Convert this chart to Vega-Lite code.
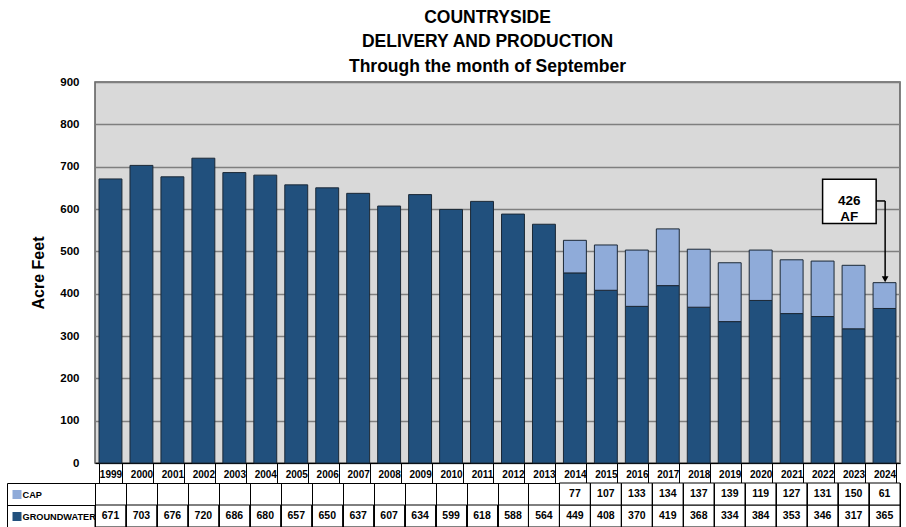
{
  "$schema": "https://vega.github.io/schema/vega-lite/v6.json",
  "padding": {"left": 6, "right": 6, "top": 8, "bottom": 0},
  "background": "white",
  "title": {
    "text": ["COUNTRYSIDE", "DELIVERY AND PRODUCTION", "Through the month of September"],
    "font": "Liberation Sans",
    "fontSize": 17.5,
    "fontWeight": "bold",
    "lineHeight": 24.5,
    "color": "black",
    "anchor": "middle",
    "dx": 34,
    "offset": 0
  },
  "data": {
    "values": [
      {"year": 1999, "series": "GROUNDWATER", "value": 671},
      {"year": 2000, "series": "GROUNDWATER", "value": 703},
      {"year": 2001, "series": "GROUNDWATER", "value": 676},
      {"year": 2002, "series": "GROUNDWATER", "value": 720},
      {"year": 2003, "series": "GROUNDWATER", "value": 686},
      {"year": 2004, "series": "GROUNDWATER", "value": 680},
      {"year": 2005, "series": "GROUNDWATER", "value": 657},
      {"year": 2006, "series": "GROUNDWATER", "value": 650},
      {"year": 2007, "series": "GROUNDWATER", "value": 637},
      {"year": 2008, "series": "GROUNDWATER", "value": 607},
      {"year": 2009, "series": "GROUNDWATER", "value": 634},
      {"year": 2010, "series": "GROUNDWATER", "value": 599},
      {"year": 2011, "series": "GROUNDWATER", "value": 618},
      {"year": 2012, "series": "GROUNDWATER", "value": 588},
      {"year": 2013, "series": "GROUNDWATER", "value": 564},
      {"year": 2014, "series": "GROUNDWATER", "value": 449},
      {"year": 2015, "series": "GROUNDWATER", "value": 408},
      {"year": 2016, "series": "GROUNDWATER", "value": 370},
      {"year": 2017, "series": "GROUNDWATER", "value": 419},
      {"year": 2018, "series": "GROUNDWATER", "value": 368},
      {"year": 2019, "series": "GROUNDWATER", "value": 334},
      {"year": 2020, "series": "GROUNDWATER", "value": 384},
      {"year": 2021, "series": "GROUNDWATER", "value": 353},
      {"year": 2022, "series": "GROUNDWATER", "value": 346},
      {"year": 2023, "series": "GROUNDWATER", "value": 317},
      {"year": 2024, "series": "GROUNDWATER", "value": 365},
      {"year": 2014, "series": "CAP", "value": 77},
      {"year": 2015, "series": "CAP", "value": 107},
      {"year": 2016, "series": "CAP", "value": 133},
      {"year": 2017, "series": "CAP", "value": 134},
      {"year": 2018, "series": "CAP", "value": 137},
      {"year": 2019, "series": "CAP", "value": 139},
      {"year": 2020, "series": "CAP", "value": 119},
      {"year": 2021, "series": "CAP", "value": 127},
      {"year": 2022, "series": "CAP", "value": 131},
      {"year": 2023, "series": "CAP", "value": 150},
      {"year": 2024, "series": "CAP", "value": 61}
    ]
  },
  "bounds": "flush",
  "spacing": 20,
  "resolve": {"scale": {"x": "independent", "y": "independent"}},
  "vconcat": [
    {
      "width": 805,
      "height": 381,
      "view": {"fill": "#d9d9d9", "stroke": "#5a5a5a", "strokeWidth": 1.5},
      "resolve": {"scale": {"x": "independent"}},
      "layer": [
        {
          "mark": {"type": "bar", "stroke": "#1b2836", "strokeWidth": 1},
          "encoding": {
            "x": {
              "field": "year", "type": "ordinal",
              "scale": {"paddingInner": 0.26, "paddingOuter": 0.13},
              "axis": {
                "title": null, "labelAngle": 0, "labelFont": "Liberation Sans Narrow, Liberation Sans", "labelFontSize": 10, "labelFontWeight": "bold",
                "labelColor": "black", "tickBand": "extent", "tickSize": 20, "tickColor": "black",
                "domain": true, "domainColor": "black", "labelPadding": -14, "grid": false
              }
            },
            "y": {
              "field": "value", "type": "quantitative", "stack": "zero",
              "scale": {"domain": [0, 900], "nice": false},
              "axis": {
                "title": "Acre Feet", "titleFontSize": 16, "titleFontWeight": "bold", "titleColor": "black",
                "titlePadding": 13, "labelFontSize": 11.5, "labelFontWeight": "bold", "labelColor": "black",
                "labelPadding": 16, "ticks": false, "domain": false, "grid": true, "gridColor": "#7f7f7f",
                "gridWidth": 1.5, "values": [0, 100, 200, 300, 400, 500, 600, 700, 800, 900]
              }
            },
            "color": {
              "field": "series", "type": "nominal",
              "scale": {"domain": ["CAP", "GROUNDWATER"], "range": ["#8fabd9", "#21507d"]},
              "legend": null
            },
            "order": {"field": "series", "sort": "descending"}
          }
        },
        {
          "data": {"values": [{"year": 2024, "total": 426}]},
          "encoding": {},
          "layer": [
            {
              "mark": {"type": "rect", "fill": "white", "stroke": "black", "strokeWidth": 1.5},
              "encoding": {
                "x": {"datum": 2022.0, "type": "quantitative", "scale": {"domain": [1998.5, 2024.5], "nice": false, "zero": false}, "axis": null},
                "x2": {"datum": 2023.73},
                "y": {"datum": 670, "type": "quantitative"},
                "y2": {"datum": 566}
              }
            },
            {
              "mark": {"type": "text", "fontSize": 13.5, "fontWeight": "bold", "color": "black", "lineHeight": 16.5, "baseline": "middle", "align": "center"},
              "encoding": {
                "x": {"datum": 2022.86, "type": "quantitative", "axis": null},
                "y": {"datum": 620, "type": "quantitative"},
                "text": {"value": ["426", "AF"]}
              }
            },
            {
              "mark": {"type": "rule", "color": "black", "strokeWidth": 1.5},
              "encoding": {
                "x": {"datum": 2023.73, "type": "quantitative", "axis": null},
                "x2": {"datum": 2024.02},
                "y": {"datum": 619, "type": "quantitative"}
              }
            },
            {
              "mark": {"type": "rule", "color": "black", "strokeWidth": 1.5},
              "encoding": {
                "x": {"datum": 2024.02, "type": "quantitative", "axis": null},
                "y": {"datum": 619, "type": "quantitative"},
                "y2": {"datum": 436}
              }
            },
            {
              "mark": {"type": "point", "shape": "triangle-down", "filled": true, "color": "black", "size": 45, "opacity": 1},
              "encoding": {
                "x": {"datum": 2024.02, "type": "quantitative", "axis": null},
                "y": {"datum": 434, "type": "quantitative"}
              }
            }
          ]
        }
      ]
    },
    {
      "width": 805,
      "height": 44,
      "view": {"fill": "white", "stroke": "black", "strokeWidth": 1},
      "resolve": {"axis": {"y": "independent"}},
      "encoding": {
        "x": {
          "field": "year", "type": "ordinal",
          "scale": {"paddingInner": 0, "paddingOuter": 0},
          "axis": {"orient": "bottom", "title": null, "labels": false, "ticks": false, "domain": false, "grid": true, "gridColor": "black", "gridWidth": 1, "tickBand": "extent"}
        },
        "y": {
          "field": "series", "type": "nominal",
          "scale": {"domain": ["CAP", "GROUNDWATER"], "paddingInner": 0, "paddingOuter": 0}
        }
      },
      "layer": [
        {
          "mark": {"type": "rect", "fill": "white", "stroke": "black", "strokeWidth": 1},
          "encoding": {
            "y": {
              "field": "series", "type": "nominal",
              "axis": {"orient": "left", "offset": 88, "title": null, "labels": false, "ticks": false, "grid": false, "domain": true, "domainColor": "black", "domainWidth": 1}
            }
          }
        },
        {
          "transform": [{"filter": "datum.series === 'CAP'"}],
          "mark": {"type": "text", "font": "Liberation Sans Narrow, Liberation Sans", "fontSize": 10.5, "fontWeight": "bold", "color": "black"},
          "encoding": {
            "y": {
              "field": "series", "type": "nominal",
              "axis": {
                "orient": "left", "title": null, "domain": false, "grid": true, "gridColor": "black",
                "tickBand": "extent", "tickSize": 88, "tickColor": "black", "labelAlign": "left",
                "labelPadding": -15, "labelFont": "Liberation Sans Narrow, Liberation Sans", "labelFontSize": 9.2, "labelFontWeight": "bold", "labelColor": "black"
              }
            },
            "text": {"field": "value", "type": "quantitative"}
          }
        },
        {
          "transform": [{"filter": "datum.series === 'GROUNDWATER'"}],
          "mark": {"type": "text", "font": "Liberation Sans Narrow, Liberation Sans", "fontSize": 10.5, "fontWeight": "bold", "color": "black"},
          "encoding": {
            "y": {
              "field": "series", "type": "nominal",
              "axis": {
                "orient": "left", "offset": 83, "title": null, "labels": false, "grid": false,
                "domain": false, "tickBand": "center", "tickSize": -9, "tickWidth": 9,
                "tickColor": {"condition": {"test": "datum.value === 'CAP'", "value": "#8fabd9"}, "value": "#21507d"}
              }
            },
            "text": {"field": "value", "type": "quantitative"}
          }
        }
      ]
    }
  ],
  "config": {"font": "Liberation Sans"}
}
